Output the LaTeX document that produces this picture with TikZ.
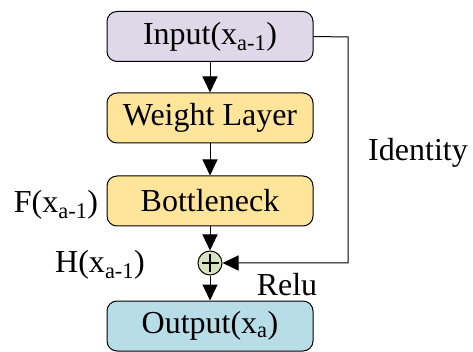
\documentclass[tikz,border=0pt]{standalone}
\usepackage{fontspec}
\setmainfont{Liberation Serif}
\usetikzlibrary{arrows.meta,calc}
\definecolor{inputfill}{RGB}{222,216,232}
\definecolor{layerfill}{RGB}{255,229,153}
\definecolor{outputfill}{RGB}{183,221,232}
\definecolor{sumfill}{RGB}{215,228,189}
\newcommand{\sub}[1]{\textsubscript{#1}}
\begin{document}
\begin{tikzpicture}[x=1pt,y=-1pt,
  blockbox/.style={draw=black, line width=1pt, rounded corners=10pt,
    minimum width=206pt, minimum height=50pt, inner sep=0pt,
    font=\fontsize{32}{36}\selectfont},
  lbl/.style={font=\fontsize{32}{36}\selectfont, inner sep=0pt},
  flow/.style={line width=1pt, -{Triangle[length=16pt,width=15pt]}}]
\useasboundingbox (0,0) rectangle (473,352);
\node[blockbox, fill=inputfill] (in) at (210,36.5) {Input(x\sub{a-1})};
\node[blockbox, fill=layerfill] (wl) at (210,118) {Weight Layer};
\node[blockbox, fill=layerfill] (bn) at (210,201) {Bottleneck};
\node[blockbox, fill=outputfill] (out) at (210,326) {Output(x\sub{a})};
\node[draw=black, line width=1pt, circle, fill=sumfill, minimum size=24pt, inner sep=0pt] (sum) at (210,263) {};
\draw[line width=1.2pt] ($(sum.center)+(-8.5,0)$) -- ++(17,0) ($(sum.center)+(0,-8.5)$) -- ++(0,17);
\draw[flow] (in) -- (wl);
\draw[flow] (wl) -- (bn);
\draw[flow] (bn) -- (sum);
\draw[flow] (sum) -- (out);
\coordinate (c1) at (348,37);
\coordinate (c2) at (348,263);
\draw[flow] (in.east) -- (c1) -- (c2) -- (sum.east);
\node[lbl] (idl) at (418,153) {Identity};
\node[lbl] (fl) at (56,205) {F(x\sub{a-1})};
\node[lbl] (hl) at (100,265) {H(x\sub{a-1})};
\node[lbl] (rl) at (287,285) {Relu};
\end{tikzpicture}
\end{document}
